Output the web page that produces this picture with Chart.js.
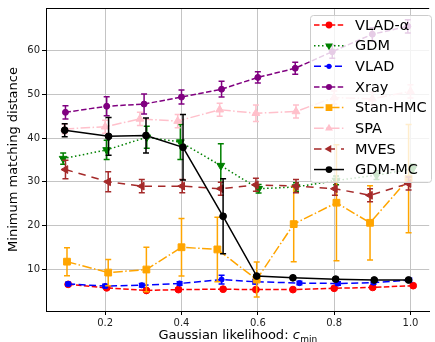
<!DOCTYPE html>
<html>
<head>
<meta charset="utf-8">
<script src="https://cdn.jsdelivr.net/npm/chart.js@4.4.0/dist/chart.umd.min.js"></script>
<style>
  html, body { margin: 0; padding: 0; background: #fff; overflow: hidden; }
  #wrap { width: 435px; height: 342px; }
</style>
</head>
<body>
<div id="wrap"><canvas id="myChart" width="435" height="342"></canvas></div>
<script>
// values, x is slightly jittered per series
var xTicks = [0.2, 0.4, 0.6, 0.8, 1.0];
var yTicks = [10, 20, 30, 40, 50, 60];

var vladAlphaX = [0.103, 0.204, 0.308, 0.392, 0.509, 0.595, 0.692, 0.800, 0.901, 1.007];
var vladAlphaY = [6.5, 5.7, 5.1, 5.3, 5.4, 5.3, 5.3, 5.6, 5.8, 6.2];
var vladAlphaErr = [0.3, 0.3, 0.3, 0.3, 0.3, 0.3, 0.3, 0.3, 0.3, 0.3];

var gdmX = [0.090, 0.204, 0.309, 0.397, 0.503, 0.602, 0.700, 0.805, 0.911, 1.006];
var gdmY = [35.3, 37.3, 40.2, 39.1, 33.7, 28.4, 28.8, 30.3, 31.5, 33.0];
var gdmErr = [1.3, 2.2, 2.5, 4.0, 5.0, 1.0, 1.0, 1.0, 1.0, 1.0];

var vladX = [0.103, 0.200, 0.296, 0.395, 0.505, 0.593, 0.709, 0.810, 0.903, 0.997];
var vladY = [6.6, 6.1, 6.3, 6.7, 7.6, 7.1, 6.8, 6.7, 6.9, 7.5];
var vladErr = [0.4, 0.4, 0.4, 0.4, 1.0, 0.5, 0.4, 0.4, 0.4, 0.4];

var xrayX = [0.096, 0.204, 0.302, 0.400, 0.505, 0.600, 0.698, 0.795, 0.900, 0.993];
var xrayY = [45.9, 47.3, 47.8, 49.4, 51.2, 53.9, 56.0, 59.8, 63.8, 65.6];
var xrayErr = [1.5, 2.2, 2.3, 1.6, 1.8, 1.3, 1.4, 1.5, 1.5, 1.5];

var stanX = [0.100, 0.208, 0.308, 0.400, 0.494, 0.597, 0.694, 0.806, 0.894, 0.995];
var stanY = [11.7, 9.2, 9.9, 15.0, 14.5, 7.6, 20.3, 25.2, 20.6, 30.7];
var stanErr = [3.2, 3.0, 5.1, 6.6, 7.4, 4.0, 8.6, 13.3, 8.5, 12.4];

var spaX = [0.094, 0.200, 0.291, 0.390, 0.500, 0.595, 0.700, 0.800, 0.900, 1.000];
var spaY = [42.1, 42.6, 44.4, 43.9, 46.5, 45.7, 46.1, 49.3, 49.0, 50.7];
var spaErr = [1.1, 1.5, 1.5, 1.5, 1.5, 1.9, 1.5, 1.5, 1.5, 1.5];

var mvesX = [0.096, 0.208, 0.296, 0.402, 0.503, 0.595, 0.700, 0.802, 0.894, 0.995];
var mvesY = [32.8, 30.0, 29.0, 29.0, 28.4, 29.3, 29.0, 28.4, 26.9, 29.6];
var mvesErr = [2.1, 2.3, 1.5, 1.5, 1.5, 1.5, 1.5, 1.5, 1.5, 1.5];

var gdmMcX = [0.094, 0.209, 0.307, 0.404, 0.509, 0.597, 0.692, 0.804, 0.905, 0.995];
var gdmMcY = [41.8, 40.4, 40.6, 37.9, 22.1, 8.4, 8.0, 7.7, 7.5, 7.5];
var gdmMcErr = [1.5, 4.3, 4.0, 7.5, 8.6, 0.3, 0.3, 0.3, 0.3, 0.3];

var FONT = "'DejaVu Sans', sans-serif";

function toPoints(xs, ys) {
    return xs.map(function (x, i) { return { x: x, y: ys[i] }; });
}

// one line+marker series, matplotlib errorbar look
function series(label, xs, ys, errs, color, dash, style, radius, rotation, lw) {
    return {
        label: label,
        data: toPoints(xs, ys),
        errors: errs,
        borderColor: color,
        backgroundColor: color,
        borderWidth: lw || 1.5,
        borderDash: dash,
        pointStyle: style,
        pointRadius: radius,
        pointRotation: rotation || 0,
        pointBackgroundColor: color,
        pointBorderColor: color,
        pointBorderWidth: 1,
        tension: 0,
        fill: false
    };
}

var datasets = [
    series('VLAD-\u03b1', vladAlphaX, vladAlphaY, vladAlphaErr, '#ff0000', [5.5, 2.4], 'circle', 3.4),
    series('GDM', gdmX, gdmY, gdmErr, '#008000', [1.5, 2.5], 'triangle', 4.5, 180),
    series('VLAD', vladX, vladY, vladErr, '#0000ff', [7, 3.5], 'circle', 2.6),
    series('Xray', xrayX, xrayY, xrayErr, '#800080', [5.5, 2.4], 'circle', 3),
    series('Stan-HMC', stanX, stanY, stanErr, '#ffa500', [9.6, 2.4, 1.5, 2.4], 'rect', 4.8),
    series('SPA', spaX, spaY, spaErr, '#ffc0cb', [9.6, 2.4, 1.5, 2.4], 'triangle', 4.5),
    series('MVES', mvesX, mvesY, mvesErr, '#a52a2a', [7.5, 6], 'triangle', 4.5, 270),
    series('GDM-MC', gdmMcX, gdmMcY, gdmMcErr, '#000000', [], 'circle', 3.4)
];
// later series drawn on top
datasets.forEach(function (d, i) { d.order = datasets.length - 1 - i; });

// vertical error bars with caps, under each series' own line
var errorBars = {
    id: 'errorBars',
    beforeDatasetDraw: function (chart, args) {
        var ds = chart.data.datasets[args.index];
        if (!ds.errors) return;
        var ctx = chart.ctx;
        var yScale = chart.scales.y;
        ctx.save();
        ctx.strokeStyle = ds.borderColor;
        ctx.lineWidth = 1.5;
        ctx.setLineDash([]);
        args.meta.data.forEach(function (pt, i) {
            var v = ds.data[i].y, e = ds.errors[i];
            var top = yScale.getPixelForValue(v + e);
            var bot = yScale.getPixelForValue(v - e);
            ctx.beginPath();
            ctx.moveTo(pt.x, top); ctx.lineTo(pt.x, bot);
            ctx.moveTo(pt.x - 3, top); ctx.lineTo(pt.x + 3, top);
            ctx.moveTo(pt.x - 3, bot); ctx.lineTo(pt.x + 3, bot);
            ctx.stroke();
        });
        ctx.restore();
    }
};

function drawMarker(ctx, style, x, y, r, rot, color) {
    ctx.save();
    ctx.translate(x, y);
    ctx.rotate(rot * Math.PI / 180);
    ctx.fillStyle = color;
    ctx.beginPath();
    if (style === 'circle') {
        ctx.arc(0, 0, r, 0, Math.PI * 2);
    } else if (style === 'rect') {
        var s = r * Math.SQRT1_2;
        ctx.rect(-s, -s, 2 * s, 2 * s);
    } else if (style === 'triangle') {
        for (var k = 0; k < 3; k++) {
            var a = k * 2 * Math.PI / 3;
            ctx.lineTo(Math.sin(a) * r, -Math.cos(a) * r);
        }
        ctx.closePath();
    }
    ctx.fill();
    ctx.restore();
}

// top spine, x title with subscript, and the legend box
var extras = {
    id: 'extras',
    afterDraw: function (chart) {
        var ctx = chart.ctx;
        var area = chart.chartArea;

        ctx.save();
        ctx.strokeStyle = '#000';
        ctx.lineWidth = 1;
        ctx.beginPath();
        ctx.moveTo(area.left, area.top + 0.5);
        ctx.lineTo(area.right, area.top + 0.5);
        ctx.stroke();

        // x axis title: Gaussian likelihood: c_min
        var part1 = 'Gaussian likelihood: ';
        ctx.fillStyle = '#000';
        ctx.textBaseline = 'alphabetic';
        ctx.font = '13px ' + FONT;
        var w1 = ctx.measureText(part1).width;
        ctx.font = 'italic 13px ' + FONT;
        var w2 = ctx.measureText('c').width;
        ctx.font = '9px ' + FONT;
        var w3 = ctx.measureText('min').width;
        var tx = (area.left + area.right) / 2 - (w1 + w2 + w3) / 2;
        var ty = 339;
        ctx.font = '13px ' + FONT;
        ctx.fillText(part1, tx, ty);
        ctx.font = 'italic 13px ' + FONT;
        ctx.fillText('c', tx + w1, ty);
        ctx.font = '9px ' + FONT;
        ctx.fillText('min', tx + w1 + w2 + 0.5, ty + 3);

        // legend
        var bx = 310, by = 15, bw = 121, bh = 167;
        ctx.fillStyle = 'rgba(255,255,255,0.8)';
        ctx.strokeStyle = '#cccccc';
        ctx.lineWidth = 1;
        ctx.beginPath();
        ctx.roundRect(bx + 0.5, by + 0.5, bw, bh, 3);
        ctx.fill();
        ctx.stroke();

        ctx.font = '14.5px ' + FONT;
        ctx.textBaseline = 'middle';
        chart.data.datasets.forEach(function (ds, i) {
            var cy = 25 + i * 20.65;
            ctx.save();
            ctx.strokeStyle = ds.borderColor;
            ctx.lineWidth = ds.borderWidth;
            ctx.setLineDash(ds.borderDash);
            ctx.beginPath();
            ctx.moveTo(314, cy);
            ctx.lineTo(344, cy);
            ctx.stroke();
            ctx.restore();
            drawMarker(ctx, ds.pointStyle, 329, cy, ds.pointRadius, ds.pointRotation, ds.borderColor);
            ctx.fillStyle = '#000';
            ctx.fillText(ds.label, 355, cy + 1);
        });
        ctx.restore();
    }
};

var ctx = document.getElementById('myChart').getContext('2d');

var myChart = new Chart(ctx, {
    type: 'line',
    data: { datasets: datasets },
    options: {
        responsive: false,
        animation: false,
        devicePixelRatio: 1,
        layout: { padding: { top: 7, right: 0, left: 0, bottom: 0 } },
        plugins: {
            legend: { display: false },
            tooltip: { enabled: false }
        },
        scales: {
            x: {
                type: 'linear',
                min: 0.045,
                max: 1.049,
                afterBuildTicks: function (scale) {
                    scale.ticks = xTicks.map(function (v) { return { value: v }; });
                },
                afterFit: function (scale) { scale.height = 31; },
                grid: { color: '#c4c4c4', lineWidth: 1, tickLength: 4, tickColor: '#000' },
                border: { color: '#000', width: 1 },
                ticks: {
                    color: '#222',
                    padding: 2,
                    maxRotation: 0,
                    font: { family: FONT, size: 10 },
                    callback: function (v) { return v.toFixed(1); }
                },
                title: { display: false }
            },
            y: {
                type: 'linear',
                min: 0.4,
                max: 69.8,
                afterBuildTicks: function (scale) {
                    scale.ticks = yTicks.map(function (v) { return { value: v }; });
                },
                afterFit: function (scale) { scale.width = 46; },
                grid: { color: '#c4c4c4', lineWidth: 1, tickLength: 4, tickColor: '#000' },
                border: { color: '#000', width: 1 },
                ticks: {
                    color: '#222',
                    padding: 2,
                    font: { family: FONT, size: 10 }
                },
                title: {
                    display: true,
                    text: 'Minimum matching distance',
                    color: '#000',
                    font: { family: FONT, size: 13 },
                    padding: { top: 6, bottom: 0 }
                }
            }
        }
    },
    plugins: [errorBars, extras]
});
</script>
</body>
</html>
